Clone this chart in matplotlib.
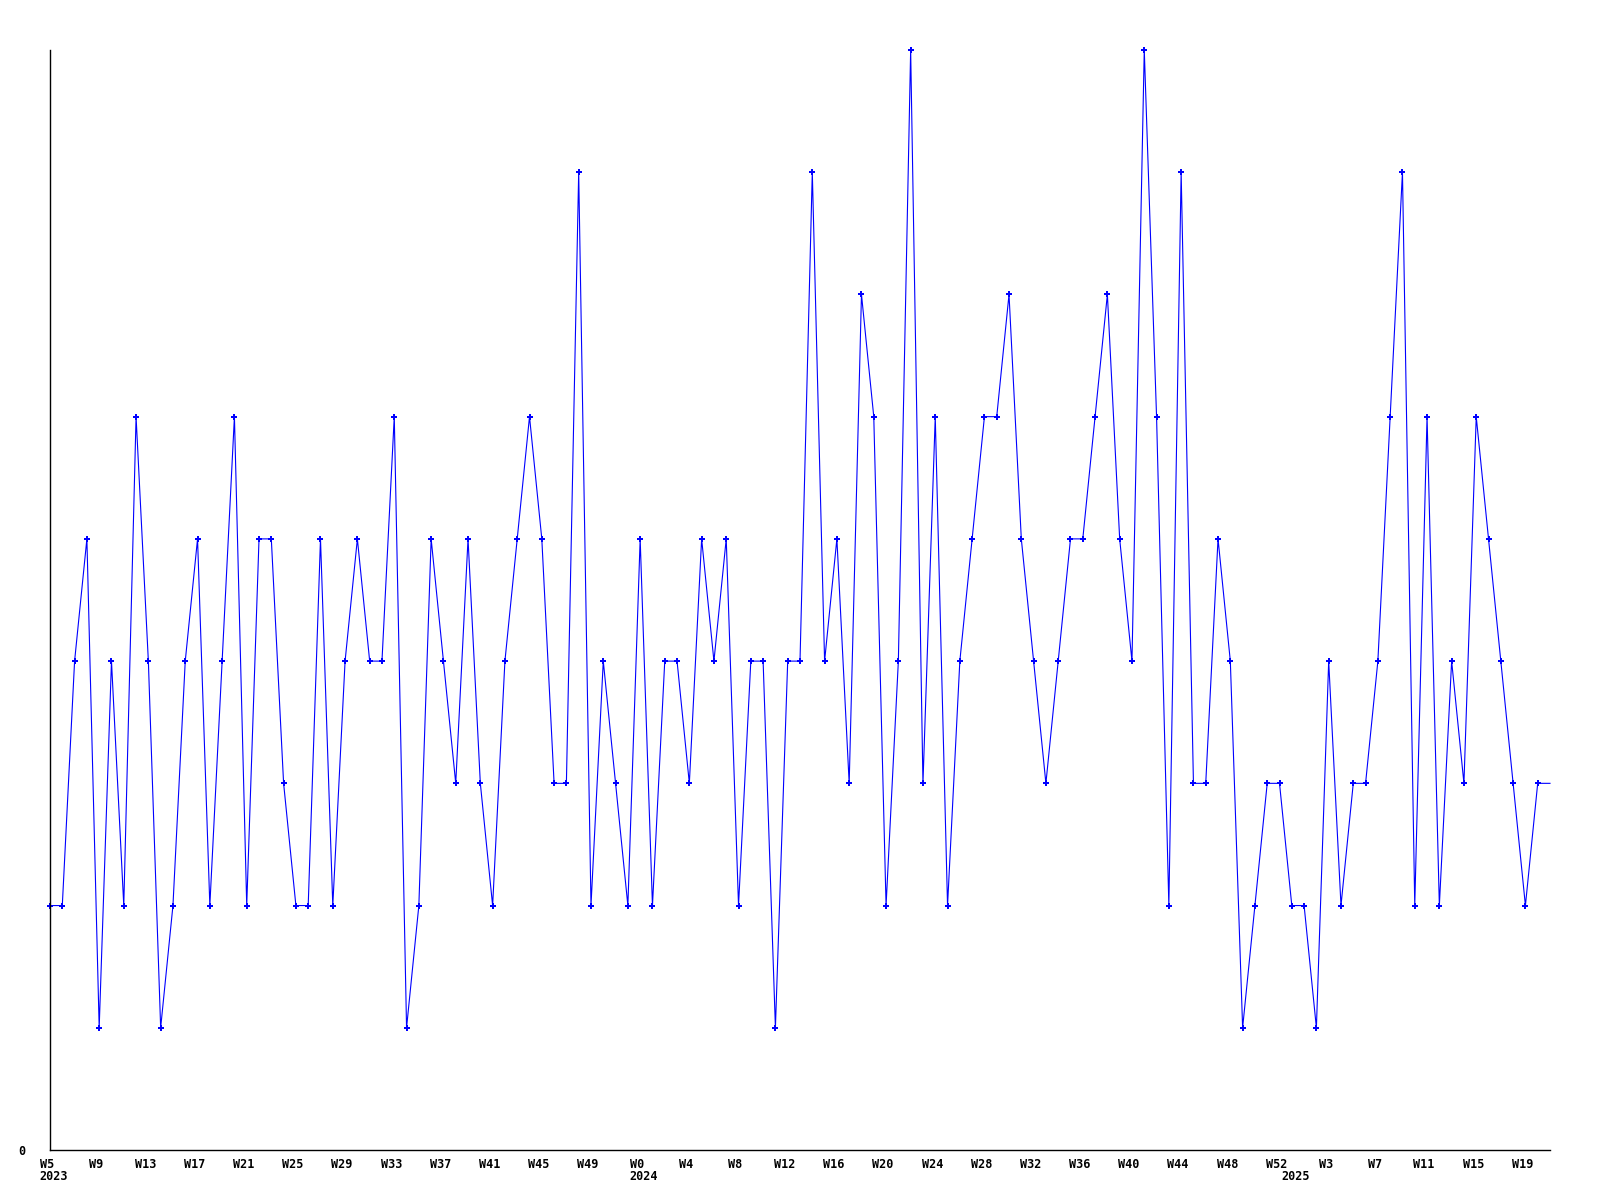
import matplotlib
matplotlib.use('Agg')
import matplotlib.pyplot as plt
import matplotlib.transforms as mtransforms

# weekly counts, one list per year
years = [2023, 2024, 2025]
first_week = [5, 0, 0]
values_2023 = [2, 2, 4, 5, 1, 4, 2, 6, 4, 1, 2, 4, 5, 2, 4, 6, 2, 5, 5, 3,
               2, 2, 5, 2, 4, 5, 4, 4, 6, 1, 2, 5, 4, 3, 5, 3, 2, 4, 5, 6,
               5, 3, 3, 8, 2, 4, 3, 2]
values_2024 = [5, 2, 4, 4, 3, 5, 4, 5, 2, 4, 4, 1, 4, 4, 8, 4, 5, 3, 7, 6,
               2, 4, 9, 3, 6, 2, 4, 5, 6, 6, 7, 5, 4, 3, 4, 5, 5, 6, 7, 5,
               4, 9, 6, 2, 8, 3, 3, 5, 4, 1, 2, 3, 3]
values_2025 = [2, 2, 1, 4, 2, 3, 3, 4, 6, 8, 2, 6, 2, 4, 3, 6, 5, 4, 3, 2,
               3, 3]
label_step = 4

series = [values_2023, values_2024, values_2025]
values = []
week_names = []
year_start = []
for yr, w0, vals in zip(years, first_week, series):
    year_start.append(len(values))
    for k, v in enumerate(vals):
        values.append(v)
        week_names.append('W%d' % (w0 + k))
x = list(range(len(values)))

plt.rcParams['font.family'] = ['DejaVu Sans Mono']
plt.rcParams['font.weight'] = 'bold'

fig = plt.figure(figsize=(16, 12), dpi=100)
ax = fig.add_axes([50 / 1600, 50 / 1200, 1500 / 1600, 1100 / 1200])

ax.plot(x, values, color='#0000ff', linewidth=0.8, marker='P',
        markersize=3.8, markeredgewidth=0, markevery=list(range(len(x) - 1)),
        clip_on=False)

ax.set_xlim(0, len(values) - 1)
ax.set_ylim(0, max(values))

for s in ['top', 'right']:
    ax.spines[s].set_visible(False)
for s in ['left', 'bottom']:
    ax.spines[s].set_linewidth(1.0)
    ax.spines[s].set_color('black')

ticks = x[::label_step]
ax.set_xticks(ticks)
ax.set_xticklabels([week_names[i] for i in ticks], fontsize=8.5,
                   fontweight='bold')
ax.set_yticks([0])
ax.set_yticklabels(['0'], fontsize=8.5, fontweight='bold')
ax.tick_params(axis='x', length=0, pad=6)
ax.tick_params(axis='y', length=0, pad=18)

# week labels sit a little left of their point
shift = mtransforms.ScaledTranslation(-3 / 100, 0, fig.dpi_scale_trans)
for lbl in ax.get_xticklabels():
    lbl.set_transform(lbl.get_transform() + shift)

trans = mtransforms.blended_transform_factory(ax.transData, ax.transAxes)
for yr, i in zip(years, year_start):
    ax.text(i - 0.85, -0.024, str(yr), transform=trans, ha='left',
            va='center', fontsize=8.5, fontweight='bold')

fig.savefig('out.png', dpi=100)
